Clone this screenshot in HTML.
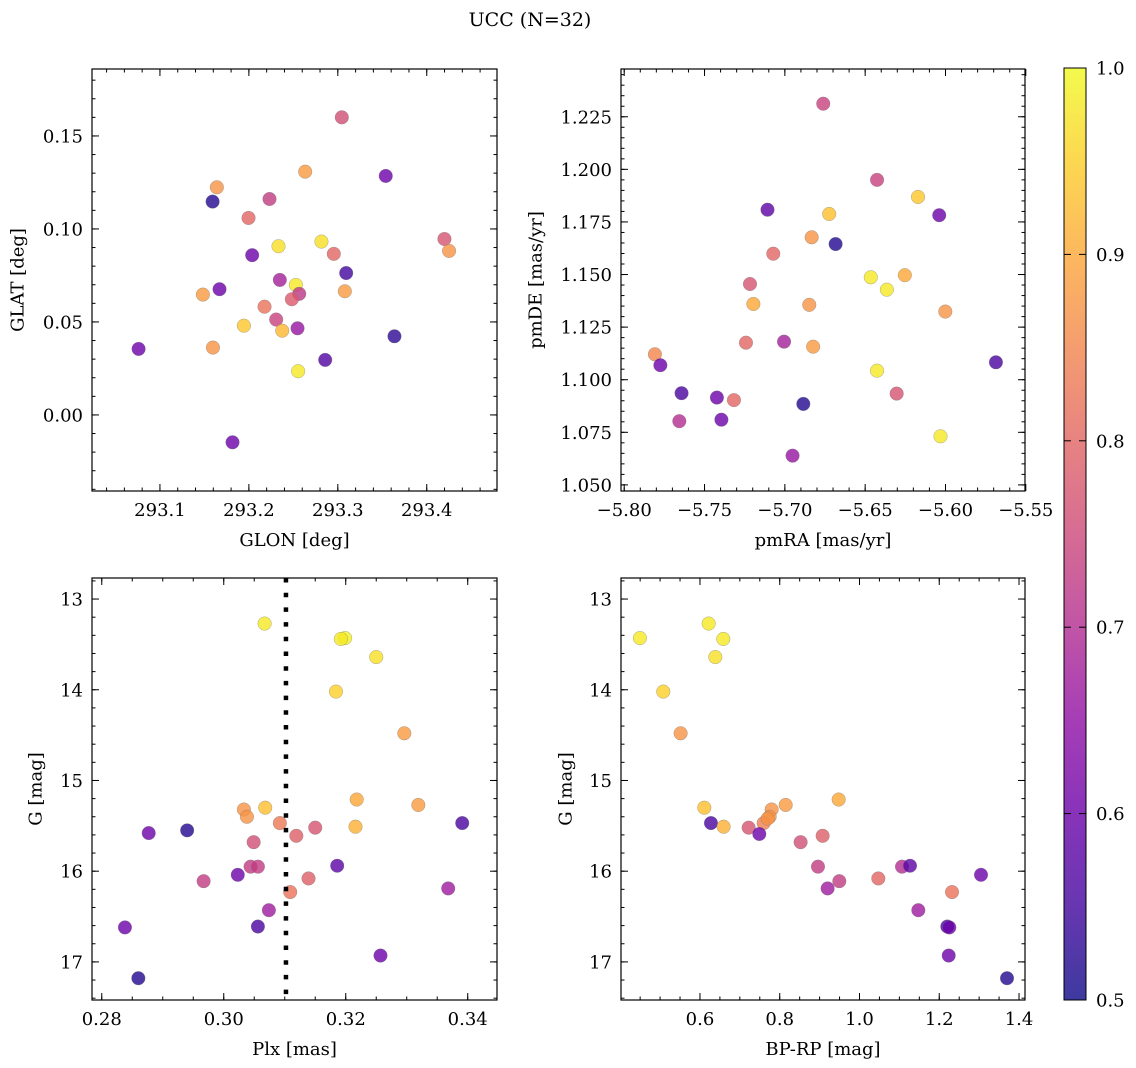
<!DOCTYPE html>
<html><head><meta charset="utf-8"><title>UCC (N=32)</title>
<style>
html,body{margin:0;padding:0;background:#fff;}
svg{display:block;font-family:"DejaVu Serif","Liberation Serif",serif;}
</style></head>
<body>
<svg id="fig" width="1136" height="1068" viewBox="0 0 1136 1068" xmlns="http://www.w3.org/2000/svg">
<defs>
<linearGradient id="cbgrad" x1="0" y1="1" x2="0" y2="0">
<stop offset="0" stop-color="#0d0887"/><stop offset="0.1" stop-color="#41049d"/><stop offset="0.2" stop-color="#6a00a8"/><stop offset="0.3" stop-color="#8f0da4"/><stop offset="0.4" stop-color="#b12a90"/><stop offset="0.5" stop-color="#cc4778"/><stop offset="0.6" stop-color="#e16462"/><stop offset="0.7" stop-color="#f2844b"/><stop offset="0.8" stop-color="#fca636"/><stop offset="0.9" stop-color="#fcce25"/><stop offset="1" stop-color="#f0f921"/>
</linearGradient>
</defs>
<text x="530" y="26" text-anchor="middle" font-size="19">UCC (N=32)</text>
<g id="panels"></g>
<g>
<rect x="1064" y="68" width="22" height="932" fill="url(#cbgrad)" opacity="0.8"/>
<rect x="1064" y="68" width="22" height="932" fill="none" stroke="#000" stroke-width="1"/>
<g id="cbticks"></g>
</g>
</svg>
<script>
const NS="http://www.w3.org/2000/svg";
// ---- data ----
const glon=[293.3045,293.2633,293.3539,293.164,293.1592,293.2232,293.1996,293.2333,293.2816,293.2955,293.4199,293.4251,293.2037,293.3094,293.2348,293.2528,293.2566,293.2483,293.167,293.1483,293.3079,293.2176,293.2307,293.1944,293.2375,293.2547,293.076,293.1596,293.3637,293.2858,293.2554,293.1816];
const glat=[0.160,0.1308,0.1285,0.1224,0.1147,0.1161,0.1059,0.0907,0.0932,0.0866,0.0946,0.0882,0.0859,0.0763,0.0726,0.0699,0.0651,0.0622,0.0676,0.0647,0.0665,0.0582,0.0513,0.0480,0.0453,0.0466,0.0355,0.0362,0.0423,0.0296,0.0235,-0.0147];
const probA=[0.76,0.88,0.6,0.87,0.52,0.73,0.8,0.97,0.97,0.8,0.77,0.87,0.6,0.55,0.68,0.98,0.72,0.78,0.6,0.88,0.88,0.82,0.74,0.94,0.92,0.66,0.6,0.87,0.53,0.57,0.98,0.6];
const pmra=[-5.6761,-5.6426,-5.6171,-5.6039,-5.7108,-5.6724,-5.6833,-5.6684,-5.7072,-5.6465,-5.6253,-5.6365,-5.7217,-5.7196,-5.6848,-5.6001,-5.7242,-5.7005,-5.6824,-5.7809,-5.7775,-5.5686,-5.6426,-5.7643,-5.7423,-5.7317,-5.6885,-5.6304,-5.7657,-5.7395,-5.6031,-5.6952];
const pmde=[1.2312,1.1950,1.1869,1.1782,1.1808,1.1788,1.1677,1.1645,1.1599,1.1487,1.1497,1.1428,1.1455,1.1360,1.1356,1.1324,1.1176,1.1181,1.1157,1.1121,1.1069,1.1083,1.1043,1.0936,1.0915,1.0903,1.0885,1.0934,1.0803,1.0810,1.0731,1.0639];
const probB=[0.74,0.74,0.94,0.6,0.58,0.93,0.87,0.52,0.8,0.98,0.9,0.98,0.77,0.9,0.87,0.87,0.8,0.68,0.88,0.85,0.6,0.56,0.98,0.56,0.6,0.8,0.52,0.77,0.7,0.6,0.98,0.66];
const plx=[0.3067,0.3199,0.3192,0.3250,0.3184,0.3296,0.3218,0.3319,0.3033,0.3068,0.3038,0.3092,0.3216,0.3391,0.2877,0.2940,0.3150,0.3119,0.3049,0.3044,0.3056,0.3186,0.3023,0.2967,0.3139,0.3368,0.3109,0.3074,0.2838,0.3056,0.3257,0.2860];
const gmagC=[13.27,13.43,13.44,13.64,14.02,14.48,15.21,15.27,15.32,15.30,15.40,15.47,15.51,15.47,15.58,15.55,15.52,15.61,15.68,15.95,15.95,15.94,16.04,16.11,16.08,16.19,16.23,16.43,16.62,16.61,16.93,17.18];
const probC=[0.98,0.99,0.98,0.97,0.95,0.88,0.9,0.88,0.87,0.93,0.87,0.83,0.91,0.56,0.6,0.52,0.77,0.79,0.76,0.73,0.73,0.58,0.6,0.73,0.79,0.67,0.82,0.67,0.6,0.56,0.6,0.52];
const bprp=[0.4495,0.6218,0.6585,0.6385,0.5080,0.5515,0.6109,0.9478,0.8149,0.7797,0.7747,0.7597,0.6276,0.6593,0.7221,0.7488,0.8524,0.9076,0.8959,1.1066,1.1266,0.9494,0.9201,1.0472,1.3047,1.2320,1.1475,1.2202,1.2252,1.2237,1.3699,0.7698];
const gmagD=[13.43,13.27,13.44,13.64,14.02,14.48,15.30,15.21,15.27,15.32,15.40,15.47,15.47,15.51,15.52,15.59,15.68,15.61,15.95,15.95,15.94,16.11,16.19,16.08,16.04,16.23,16.43,16.61,16.62,16.93,17.18,15.42];
const probD=[0.98,0.98,0.98,0.97,0.95,0.87,0.93,0.9,0.88,0.87,0.87,0.84,0.56,0.91,0.77,0.6,0.76,0.79,0.73,0.7,0.58,0.73,0.67,0.8,0.6,0.82,0.67,0.56,0.6,0.6,0.52,0.87];
const plxLine=0.3102;
const cbTicks=[0.5,0.6,0.7,0.8,0.9,1.0];

const FS=18;
const stops=[[13,8,135],[65,4,157],[106,0,168],[143,13,164],[177,42,144],[204,71,120],[225,100,98],[242,132,75],[252,166,54],[252,206,37],[240,249,33]];
function plasma(p){let t=Math.max(0,Math.min(1,(p-0.5)/0.5))*10;let i=Math.min(9,Math.floor(t));let f=t-i;const a=stops[i],b=stops[i+1];return `rgb(${a.map((v,k)=>Math.round(v+(b[k]-v)*f)).join(',')})`;}
function el(tag,attrs,parent){const e=document.createElementNS(NS,tag);for(const k in attrs)e.setAttribute(k,attrs[k]);parent.appendChild(e);return e;}

const panels=[
 {name:'glon-glat',box:[92,69,497,491],xd:[293.0236,293.479],yd:[0.186,-0.0409],xs:glon,ys:glat,ps:probA,
  xt:[293.1,293.2,293.3,293.4],xm:0.02,xf:v=>v.toFixed(1),yt:[0,0.05,0.1,0.15],ym:0.01,yf:v=>v.toFixed(2),xl:'GLON [deg]',yl:'GLAT [deg]',ylx:18},
 {name:'pmra-pmde',box:[621,69,1025,491],xd:[-5.802,-5.5505],yd:[1.2477,1.0471],xs:pmra,ys:pmde,ps:probB,
  xt:[-5.8,-5.75,-5.7,-5.65,-5.6,-5.55],xm:0.01,xf:v=>'\u2212'+Math.abs(v).toFixed(2),yt:[1.05,1.075,1.1,1.125,1.15,1.175,1.2,1.225],ym:0.005,yf:v=>v.toFixed(3),xl:'pmRA [mas/yr]',yl:'pmDE [mas/yr]',ylx:536},
 {name:'plx-g',box:[92,578,497,1000],xd:[0.2784,0.3448],yd:[12.768,17.42],xs:plx,ys:gmagC,ps:probC,
  xt:[0.28,0.3,0.32,0.34],xm:0.005,xf:v=>v.toFixed(2),yt:[13,14,15,16,17],ym:0.2,yf:v=>v.toFixed(0),xl:'Plx [mas]',yl:'G [mag]',ylx:36,vline:plxLine},
 {name:'bprp-g',box:[621,578,1025,1000],xd:[0.402,1.415],yd:[12.768,17.42],xs:bprp,ys:gmagD,ps:probD,
  xt:[0.6,0.8,1.0,1.2,1.4],xm:0.05,xf:v=>v.toFixed(1),yt:[13,14,15,16,17],ym:0.2,yf:v=>v.toFixed(0),xl:'BP-RP [mag]',yl:'G [mag]',ylx:566}
];
const root=document.getElementById('panels');
panels.forEach(P=>{
 const [x0,y0,x1,y1]=P.box;
 const sx=v=>x0+(v-P.xd[0])/(P.xd[1]-P.xd[0])*(x1-x0);
 const sy=v=>y0+(v-P.yd[0])/(P.yd[1]-P.yd[0])*(y1-y0);
 const g=el('g',{},root);
 
 
 const pts=el('g',{},g);
 
 
 P.xs.forEach((xv,i)=>{
  const c=el('circle',{cx:sx(xv),cy:sy(P.ys[i]),r:6.8,fill:plasma(P.ps[i]),'fill-opacity':0.8,stroke:'#777','stroke-width':0.5,'stroke-opacity':0.6},pts);
  
  
 });
 if(P.vline!==undefined){
  const l=el('line',{x1:sx(P.vline),x2:sx(P.vline),y1:y0,y2:y1,stroke:'#000','stroke-width':4.5,'stroke-dasharray':'4.5 10.2'},g);
  
  
 }
 const fr=el('rect',{x:x0,y:y0,width:x1-x0,height:y1-y0,fill:'none',stroke:'#000','stroke-width':1.2},g);
 
 
 const tk=el('g',{stroke:'#000','stroke-width':1},g);
 const xlo=Math.min(...P.xd),xhi=Math.max(...P.xd);
 for(let v=Math.ceil(xlo/P.xm-1e-6)*P.xm;v<=xhi;v+=P.xm){const X=sx(v);el('line',{x1:X,x2:X,y1:y1,y2:y1-3.5},tk);el('line',{x1:X,x2:X,y1:y0,y2:y0+3.5},tk);}
 const ylo=Math.min(...P.yd),yhi=Math.max(...P.yd);
 for(let v=Math.ceil(ylo/P.ym-1e-6)*P.ym;v<=yhi;v+=P.ym){const Y=sy(v);el('line',{x1:x0,x2:x0+3.5,y1:Y,y2:Y},tk);el('line',{x1:x1,x2:x1-3.5,y1:Y,y2:Y},tk);}
 const xg=el('g',{},g);
 
 
 P.xt.forEach(v=>{const X=sx(v);el('line',{x1:X,x2:X,y1:y1,y2:y1-7},tk);el('line',{x1:X,x2:X,y1:y0,y2:y0+7},tk);
  const t=el('text',{x:X,y:y1+25,'text-anchor':'middle','font-size':FS},xg);t.textContent=P.xf(v);
  });
 const yg=el('g',{},g);
 
 
 P.yt.forEach(v=>{const Y=sy(v);el('line',{x1:x0,x2:x0+7,y1:Y,y2:Y},tk);el('line',{x1:x1,x2:x1-7,y1:Y,y2:Y},tk);
  const t=el('text',{x:x0-9,y:Y+6.5,'text-anchor':'end','font-size':FS},yg);t.textContent=P.yf(v);
  });
 const xl=el('text',{x:(x0+x1)/2,y:y1+55,'text-anchor':'middle','font-size':FS},g);xl.textContent=P.xl;
 
 const yc=(y0+y1)/2;
 const yl=el('text',{x:P.ylx,y:yc,'text-anchor':'middle','font-size':FS,transform:`rotate(-90 ${P.ylx} ${yc})`,'dominant-baseline':'central'},g);yl.textContent=P.yl;
 
});
const cb=document.getElementById('cbticks');
cbTicks.forEach(v=>{const Y=1000-(v-0.5)/0.5*932;
 el('line',{x1:1086,x2:1079,y1:Y,y2:Y,stroke:'#000','stroke-width':1},cb);
 el('line',{x1:1064,x2:1071,y1:Y,y2:Y,stroke:'#000','stroke-width':1},cb);
 const t=el('text',{x:1096,y:Y+6.5,'font-size':FS},cb);t.textContent=v.toFixed(1);
 });
</script>
</body></html>
